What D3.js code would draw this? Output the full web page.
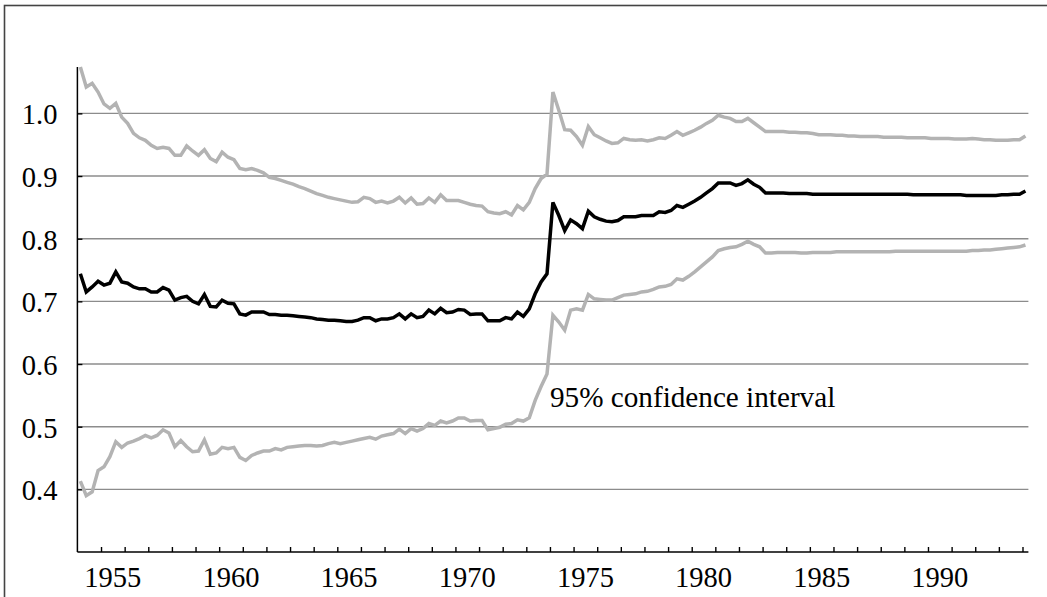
<!DOCTYPE html>
<html>
<head>
<meta charset="utf-8">
<script src="https://cdn.jsdelivr.net/npm/d3@7"></script>
<style>
  body { margin: 0; background: #fff; }
  text { font-family: "Liberation Serif", "DejaVu Serif", serif; fill: #000; }
</style>
</head>
<body>
<svg width="1047" height="597"></svg>
<script>
// quarterly series, first quarter = 1954 Q1
var startYear = 1954;

var upper = [
  1.074,1.042,1.048,1.034,1.015,1.008,1.016,0.994,0.984,0.968,
  0.961,0.957,0.949,0.944,0.946,0.944,0.933,0.933,0.948,0.940,
  0.933,0.942,0.928,0.923,0.938,0.930,0.926,0.912,0.910,0.912,
  0.909,0.905,0.898,0.896,0.893,0.890,0.887,0.883,0.880,0.876,
  0.872,0.869,0.866,0.864,0.862,0.860,0.858,0.859,0.866,0.864,
  0.858,0.860,0.857,0.860,0.866,0.857,0.865,0.855,0.856,0.865,
  0.858,0.870,0.861,0.861,0.861,0.858,0.855,0.853,0.852,0.843,
  0.841,0.840,0.843,0.838,0.853,0.846,0.858,0.880,0.896,0.903,
  1.034,1.005,0.974,0.973,0.963,0.949,0.979,0.966,0.961,0.956,
  0.952,0.953,0.960,0.958,0.957,0.958,0.956,0.958,0.961,0.960,
  0.965,0.971,0.965,0.969,0.973,0.978,0.984,0.989,0.997,0.994,
  0.992,0.987,0.987,0.992,0.985,0.978,0.971,0.971,0.971,0.971,
  0.970,0.970,0.969,0.969,0.968,0.966,0.966,0.966,0.965,0.965,
  0.964,0.964,0.963,0.963,0.963,0.963,0.962,0.962,0.962,0.962,
  0.961,0.961,0.961,0.961,0.960,0.960,0.960,0.960,0.959,0.959,
  0.959,0.960,0.959,0.958,0.958,0.957,0.957,0.957,0.958,0.958,0.964
];

var estimate = [
  0.744,0.715,0.723,0.732,0.726,0.729,0.747,0.731,0.729,0.723,
  0.720,0.720,0.715,0.715,0.722,0.718,0.702,0.706,0.708,0.700,
  0.696,0.711,0.692,0.691,0.702,0.697,0.696,0.680,0.678,0.683,
  0.683,0.683,0.679,0.679,0.678,0.678,0.677,0.676,0.675,0.674,
  0.672,0.671,0.670,0.670,0.669,0.668,0.668,0.670,0.674,0.674,
  0.669,0.672,0.672,0.674,0.680,0.672,0.680,0.674,0.676,0.686,
  0.680,0.689,0.682,0.683,0.687,0.686,0.679,0.680,0.680,0.669,
  0.669,0.669,0.674,0.672,0.683,0.676,0.688,0.712,0.731,0.744,
  0.858,0.837,0.813,0.830,0.824,0.816,0.844,0.835,0.831,0.828,
  0.827,0.829,0.835,0.835,0.835,0.837,0.837,0.837,0.843,0.842,
  0.845,0.853,0.850,0.855,0.860,0.866,0.873,0.880,0.889,0.889,
  0.889,0.885,0.888,0.894,0.887,0.882,0.873,0.873,0.873,0.873,
  0.872,0.872,0.872,0.872,0.871,0.871,0.871,0.871,0.871,0.871,
  0.871,0.871,0.871,0.871,0.871,0.871,0.871,0.871,0.871,0.871,
  0.871,0.870,0.870,0.870,0.870,0.870,0.870,0.870,0.870,0.870,
  0.869,0.869,0.869,0.869,0.869,0.869,0.870,0.870,0.871,0.871,0.876
];

var lower = [
  0.413,0.390,0.396,0.430,0.436,0.452,0.476,0.467,0.474,0.477,
  0.481,0.486,0.482,0.486,0.495,0.490,0.468,0.478,0.468,0.460,
  0.461,0.479,0.456,0.458,0.467,0.465,0.467,0.451,0.446,0.454,
  0.458,0.461,0.461,0.465,0.463,0.467,0.468,0.469,0.470,0.470,
  0.469,0.470,0.473,0.475,0.473,0.475,0.477,0.479,0.481,0.483,
  0.480,0.485,0.487,0.489,0.496,0.489,0.497,0.493,0.497,0.505,
  0.502,0.509,0.506,0.509,0.514,0.514,0.509,0.510,0.510,0.495,
  0.497,0.499,0.504,0.505,0.511,0.509,0.514,0.542,0.564,0.584,
  0.678,0.667,0.654,0.686,0.688,0.686,0.711,0.704,0.703,0.702,
  0.702,0.706,0.710,0.711,0.712,0.715,0.716,0.719,0.723,0.724,
  0.727,0.736,0.734,0.740,0.747,0.755,0.763,0.771,0.781,0.784,
  0.786,0.787,0.791,0.796,0.791,0.787,0.777,0.777,0.778,0.778,
  0.778,0.778,0.777,0.777,0.778,0.778,0.778,0.778,0.779,0.779,
  0.779,0.779,0.779,0.779,0.779,0.779,0.779,0.779,0.780,0.780,
  0.780,0.780,0.780,0.780,0.780,0.780,0.780,0.780,0.780,0.780,
  0.780,0.781,0.781,0.782,0.782,0.783,0.784,0.785,0.786,0.787,0.790
];

var yearLabels = [1955, 1960, 1965, 1970, 1975, 1980, 1985, 1990];
var yTicks = [0.4, 0.5, 0.6, 0.7, 0.8, 0.9, 1.0];
var bandLabel = "95% confidence interval";

var svg = d3.select("svg");

var plotLeft = 77.4, plotRight = 1028.4, plotTop = 67, plotBottom = 552;
var nQ = estimate.length;

var x = d3.scaleLinear()
  .domain([startYear, startYear + nQ / 4])
  .range([plotLeft, plotRight]);

var y = d3.scaleLinear()
  .domain([0.3, 1.074])
  .range([plotBottom, plotTop]);

// outer frame (only top and left edge are inside the picture)
svg.append("rect")
  .attr("x", 4.5)
  .attr("y", 5.5)
  .attr("width", 1200)
  .attr("height", 800)
  .attr("fill", "none")
  .attr("stroke", "#444")
  .attr("stroke-width", 1.6);

// gridlines
svg.append("g")
  .selectAll("line")
  .data(yTicks)
  .enter()
  .append("line")
    .attr("x1", plotLeft)
    .attr("x2", plotRight)
    .attr("y1", function(d) { return y(d); })
    .attr("y2", function(d) { return y(d); })
    .attr("stroke", "#8c8c8c")
    .attr("stroke-width", 1.4);

// y axis
var yAxis = d3.axisRight(y)
  .tickValues(yTicks)
  .tickSize(5)
  .tickFormat("");

var gy = svg.append("g")
  .attr("transform", "translate(" + plotLeft + ",0)")
  .call(yAxis);
gy.select(".domain").remove();
gy.selectAll(".tick line").attr("stroke", "#000").attr("stroke-width", 1.4);

svg.append("line")
  .attr("x1", plotLeft).attr("x2", plotLeft)
  .attr("y1", plotTop).attr("y2", plotBottom)
  .attr("stroke", "#000")
  .attr("stroke-width", 1.5);

svg.append("g")
  .selectAll("text")
  .data(yTicks)
  .enter()
  .append("text")
    .attr("x", plotLeft - 20)
    .attr("y", function(d) { return y(d) + 11; })
    .attr("text-anchor", "end")
    .style("font-size", "28.5px")
    .text(function(d) { return d3.format(".1f")(d); });

// x axis: ticks at year boundaries pointing up, labels centred on the year
var xAxis = d3.axisTop(x)
  .tickValues(d3.range(startYear + 1, startYear + Math.floor(nQ / 4) + 1))
  .tickSize(5)
  .tickFormat("");

var gx = svg.append("g")
  .attr("transform", "translate(0," + plotBottom + ")")
  .call(xAxis);
gx.select(".domain").remove();
gx.selectAll(".tick line").attr("stroke", "#000").attr("stroke-width", 1.4);

svg.append("line")
  .attr("x1", plotLeft).attr("x2", plotRight)
  .attr("y1", plotBottom).attr("y2", plotBottom)
  .attr("stroke", "#000")
  .attr("stroke-width", 1.5);

svg.append("g")
  .selectAll("text")
  .data(yearLabels)
  .enter()
  .append("text")
    .attr("x", function(d) { return x(d + 0.5); })
    .attr("y", 587)
    .attr("text-anchor", "middle")
    .style("font-size", "28.5px")
    .text(function(d) { return d; });

// series
var line = d3.line()
  .x(function(d, i) { return x(startYear + (i + 0.5) / 4); })
  .y(function(d) { return y(d); });

[[upper, "#b3b3b3"], [lower, "#b3b3b3"], [estimate, "#000"]].forEach(function(s) {
  svg.append("path")
    .datum(s[0])
    .attr("d", line)
    .attr("fill", "none")
    .attr("stroke", s[1])
    .attr("stroke-width", 3.5)
    .attr("stroke-linejoin", "miter");
});

svg.append("text")
  .attr("x", 550)
  .attr("y", 407)
  .style("font-size", "29.2px")
  .text(bandLabel);
</script>
</body>
</html>
